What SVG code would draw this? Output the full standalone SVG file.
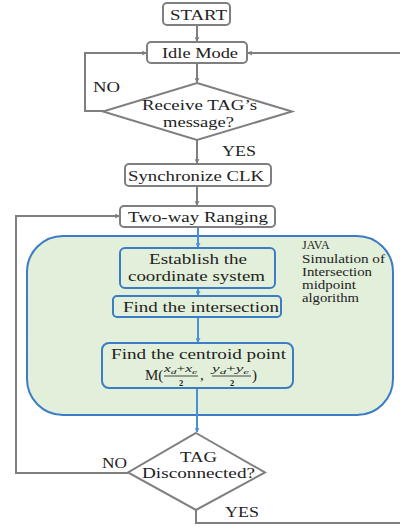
<svg xmlns="http://www.w3.org/2000/svg" width="400" height="527" viewBox="0 0 400 527" font-family="'Liberation Serif', 'Times New Roman', 'DejaVu Serif', serif">
<defs>
<style>
.box{fill:#fff;stroke:#7f7f7f;stroke-width:2}
.bbox{fill:#e2efda;stroke:#3b7cc4;stroke-width:2}
.g{fill:none;stroke:#7f7f7f;stroke-width:2}
.b{fill:none;stroke:#4a90d9;stroke-width:2}
text{font-family:'Liberation Serif','Times New Roman','DejaVu Serif',serif;fill:#222;font-size:15px}
.c{text-anchor:middle}
.s{font-size:12px}
.m{font-size:9.5px;font-style:italic}
.sub{font-size:7px;font-style:italic}
.d{font-size:8.5px;text-anchor:middle;font-weight:bold}
</style>
<marker id="ag" viewBox="0 0 10 10" refX="9" refY="5" markerWidth="5" markerHeight="5" orient="auto" markerUnits="userSpaceOnUse">
<path d="M1,1 L9,5 L1,9" fill="none" stroke="#7f7f7f" stroke-width="2"/>
</marker>
<marker id="ab" viewBox="0 0 10 10" refX="9" refY="5" markerWidth="5" markerHeight="5" orient="auto" markerUnits="userSpaceOnUse">
<path d="M1,1 L9,5 L1,9" fill="none" stroke="#4a90d9" stroke-width="2"/>
</marker>
</defs>
<rect width="400" height="527" fill="#fff"/>
<g id="region">
<rect class="bbox" x="27" y="236" width="366" height="179" rx="36"/>
</g>
<g id="connectors">
<path class="g" d="M197,25 V41" marker-end="url(#ag)"/>
<path class="g" d="M197,63 V82" marker-end="url(#ag)"/>
<path class="g" d="M104,111 H85 V53 H146" marker-end="url(#ag)"/>
<path class="g" d="M400,53 H248" marker-end="url(#ag)"/>
<path class="g" d="M197,140 V163" marker-end="url(#ag)"/>
<path class="g" d="M197,186 V205" marker-end="url(#ag)"/>
<path class="b" d="M198,227 V247" marker-end="url(#ab)"/>
<path class="b" d="M198,288 V295" marker-end="url(#ab)"/>
<path class="b" d="M198,317 V342" marker-end="url(#ab)"/>
<path class="b" d="M197,388 V432" marker-end="url(#ab)"/>
<path class="g" d="M128,473 H16 V216 H119" marker-end="url(#ag)"/>
<path class="g" d="M196,510 V523 H400"/>
</g>
<g id="start">
<rect class="box" x="163" y="3" width="67" height="22" rx="4"/>
<text class="c" x="198.5" y="20" textLength="57" lengthAdjust="spacingAndGlyphs">START</text>
</g>
<g id="idle">
<rect class="box" x="147" y="42" width="100" height="21" rx="4"/>
<text class="c" x="200" y="58" textLength="76" lengthAdjust="spacingAndGlyphs">Idle Mode</text>
</g>
<g id="receive">
<polygon class="box" points="197,83 292,111.5 197,140 103,111.5"/>
<text class="c" x="199.5" y="110" textLength="115" lengthAdjust="spacingAndGlyphs">Receive TAG’s</text>
<text class="c" x="198.5" y="127" textLength="71" lengthAdjust="spacingAndGlyphs">message?</text>
</g>
<g id="labels">
<text x="93" y="92" textLength="27" lengthAdjust="spacingAndGlyphs">NO</text>
<text x="222" y="156" textLength="34" lengthAdjust="spacingAndGlyphs">YES</text>
<text x="102" y="468" textLength="25" lengthAdjust="spacingAndGlyphs">NO</text>
<text x="225" y="517" textLength="34" lengthAdjust="spacingAndGlyphs">YES</text>
</g>
<g id="sync">
<rect class="box" x="125" y="164" width="146" height="22" rx="4"/>
<text class="c" x="196" y="181" textLength="136" lengthAdjust="spacingAndGlyphs">Synchronize CLK</text>
</g>
<g id="ranging">
<rect class="box" x="120" y="206" width="155" height="21" rx="4"/>
<text class="c" x="198" y="222" textLength="140" lengthAdjust="spacingAndGlyphs">Two-way Ranging</text>
</g>
<g id="establish">
<rect class="bbox" x="120" y="248" width="155" height="40" rx="5"/>
<text class="c" x="198" y="264" textLength="98" lengthAdjust="spacingAndGlyphs">Establish the</text>
<text class="c" x="196.5" y="281" textLength="137" lengthAdjust="spacingAndGlyphs">coordinate system</text>
</g>
<g id="intersection">
<rect class="bbox" x="113" y="296" width="168" height="21" rx="4"/>
<text class="c" x="201" y="312" textLength="156" lengthAdjust="spacingAndGlyphs">Find the intersection</text>
</g>
<g id="centroid">
<rect class="bbox" x="102" y="343" width="191" height="45" rx="7"/>
<text class="c" x="198.5" y="359" textLength="175" lengthAdjust="spacingAndGlyphs">Find the centroid point</text>
<text x="145" y="380" font-size="14px">M(</text>
<text class="m" x="164" y="372" textLength="33" lengthAdjust="spacingAndGlyphs">x<tspan class="sub" dy="1.5">d</tspan><tspan dy="-1.5" font-style="normal">+</tspan>x<tspan class="sub" dy="1.5">e</tspan></text>
<line x1="164" y1="376" x2="198" y2="376" stroke="#222" stroke-width="0.8"/>
<text class="d" x="181" y="386">2</text>
<text x="200" y="380" font-size="14px">,</text>
<text class="m" x="212" y="372" textLength="37" lengthAdjust="spacingAndGlyphs">y<tspan class="sub" dy="1.5">d</tspan><tspan dy="-1.5" font-style="normal">+</tspan>y<tspan class="sub" dy="1.5">e</tspan></text>
<line x1="212" y1="376" x2="251" y2="376" stroke="#222" stroke-width="0.8"/>
<text class="d" x="232" y="386">2</text>
<text x="252" y="380" font-size="14px">)</text>
</g>
<g id="java">
<text class="s" x="302" y="249">JAVA</text>
<text class="s" x="302" y="263" textLength="83" lengthAdjust="spacingAndGlyphs">Simulation of</text>
<text class="s" x="302" y="276" textLength="70" lengthAdjust="spacingAndGlyphs">Intersection</text>
<text class="s" x="302" y="289" textLength="54" lengthAdjust="spacingAndGlyphs">midpoint</text>
<text class="s" x="302" y="302" textLength="57" lengthAdjust="spacingAndGlyphs">algorithm</text>
</g>
<g id="disconnected">
<polygon class="box" points="196,433 265,472.5 196,510 128,472.5"/>
<text class="c" x="198.5" y="462" textLength="37" lengthAdjust="spacingAndGlyphs">TAG</text>
<text class="c" x="198.5" y="478" textLength="113" lengthAdjust="spacingAndGlyphs">Disconnected?</text>
</g>
</svg>
